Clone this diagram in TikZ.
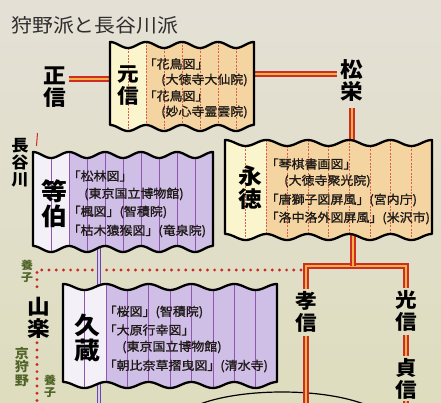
\documentclass[tikz,border=0pt]{standalone}
\usepackage{fontspec}
\newfontfamily\jp[FakeStretch=1.08]{Noto Sans CJK JP}
\newfontfamily\jpl[FakeStretch=1.08,FakeBold=1.2]{Noto Sans CJK JP}
\newfontfamily\jpt[FakeStretch=1.1]{Noto Sans CJK JP}
\definecolor{bgtop}{RGB}{228,224,214}
\definecolor{bgbot}{RGB}{222,221,190}
\definecolor{creamc}{RGB}{250,245,205}
\definecolor{orangec}{RGB}{244,212,160}
\definecolor{whitec}{RGB}{243,240,247}
\definecolor{lavc}{RGB}{207,190,230}
\definecolor{foldredc}{RGB}{215,95,75}
\definecolor{foldpurc}{RGB}{145,85,175}
\definecolor{linered}{RGB}{205,45,35}
\definecolor{lineorange}{RGB}{238,178,70}
\definecolor{linepur}{RGB}{105,70,170}
\definecolor{linelav}{RGB}{220,205,238}
\definecolor{dotred}{RGB}{205,40,40}
\definecolor{labelc}{RGB}{30,25,22}
\definecolor{olivec}{RGB}{80,100,40}
\definecolor{titlec}{RGB}{45,45,45}
\tikzset{
 screenedge/.style={draw=black, line width=2.3pt, line join=round},
 foldred/.style={draw=foldredc, line width=0.5pt, dash pattern=on 2pt off 1.3pt},
 foldpur/.style={draw=foldpurc, line width=0.6pt},
 lbl/.style={anchor=west, inner sep=0pt, text=labelc, font=\jpl\fontsize{12}{12}\selectfont},
 nm/.style 2 args={inner sep=0pt, align=center, text=black, font=\jp\bfseries\fontsize{#1}{#2}\selectfont},
 ol/.style 2 args={inner sep=0pt, align=center, text=olivec, font=\jp\bfseries\fontsize{#1}{#2}\selectfont},
 ttl/.style={anchor=west, inner sep=0pt, text=titlec, font=\jpt\fontsize{19}{19}\selectfont},
 redline/.style={draw=linered, line width=1.8pt, double=lineorange, double distance=2pt},
 purpline/.style={draw=linepur, line width=1.2pt, double=linelav, double distance=1.8pt},
 dotline/.style={draw=dotred, line width=3.2pt, line cap=round, dash pattern=on 0pt off 7.2pt},
 tickline/.style={draw=linered, line width=1pt},
 arcline/.style={draw=black, line width=1.2pt},
}
% #1 x0, #2 top, #3 bottom, #4 panel width, #5 panels, #6 first-panels colour, #7 body colour, #8 fold style
\newcommand\screenbox[8]{%
 \pgfmathsetmacro\sbxone{#1+#4*#5}%
 \pgfmathsetmacro\sbxtwo{#1+2*#4}%
 \pgfmathtruncatemacro\sbn{#5-1}%
 \begin{scope}
  \clip plot[domain=#1:\sbxone,samples=120] (\x,{#2-3*cos((\x-#1)/#4*180)}) -- plot[domain=\sbxone:#1,samples=120] (\x,{#3-3*cos((\x-#1)/#4*180)}) -- cycle;
  \fill[#7] (#1,#2-10) rectangle (\sbxone,#3+10);
  \fill[#6] (#1,#2-10) rectangle (\sbxtwo,#3+10);
  \foreach \k in {1,...,\sbn} \draw[#8] ({#1+\k*#4},#2-10) -- ({#1+\k*#4},#3+10);
 \end{scope}
 \draw[screenedge] plot[domain=#1:\sbxone,samples=120] (\x,{#2-3*cos((\x-#1)/#4*180)}) -- plot[domain=\sbxone:#1,samples=120] (\x,{#3-3*cos((\x-#1)/#4*180)}) -- cycle;
}
\begin{document}
\begin{tikzpicture}[x=1pt,y=-1pt]
\useasboundingbox (0,0) rectangle (441,403);
\clip (0,0) rectangle (441,403);
\shade[top color=bgtop, bottom color=bgbot] (0,0) rectangle (441,403);

% names outside the screens
\node[ttl] (title) at (11,25) {狩野派と長谷川派};
\node[nm={21}{22}] (masanobu) at (55,87) {正\\信};
\node[nm={21}{22}] (shoei) at (352,81) {松\\栄};
\node[nm={20}{22}] (takanobu) at (306,312) {孝\\信};
\node[nm={20}{22}] (mitsunobu) at (406,311) {光\\信};
\node[nm={20}{22}] (sadanobu) at (406,379) {貞\\信};
\node[nm={21}{22}] (sanraku) at (39,318) {山\\楽};
\node[nm={16}{17}] (hasegawa) at (20,163) {長\\谷\\川};
\node[ol={11}{12}] (yoshi1) at (27,271) {養\\子};
\node[ol={13}{13.5}] (kyokano) at (22,367) {京\\狩\\野};
\node[ol={11}{12}] (yoshi2) at (50,386) {養\\子};

% coordinates at the screens
\coordinate (moL) at (113,79);
\coordinate (moR) at (252,74);
\coordinate (eiT) at (352,146);
\coordinate (eiB) at (353,234);
\coordinate (fork) at (353,266);
\coordinate (forkL) at (306,266);
\coordinate (forkR) at (406,266);
\coordinate (tBot) at (306,406);
\coordinate (sBot) at (406,406);
\coordinate (toB) at (99,246);
\coordinate (kyT) at (99,290);
\coordinate (kyB) at (99,382);
\coordinate (pBot) at (99,406);
\coordinate (dc) at (37,270);
\coordinate (dr) at (301,270);
\coordinate (dBot) at (37,406);
\coordinate (tk1) at (37.5,133);
\coordinate (tk2) at (36.5,146);
\coordinate (ov) at (282,425);

% background arc
\draw[arcline] (ov) ellipse [x radius=106, y radius=33];

% adoption dotted lines
\draw[dotline] (dr) -- (dc) -- ([yshift=4pt]sanraku.north -| dc);
\draw[dotline] ([yshift=-4pt]sanraku.south -| dc) -- (dBot);

% lineage lines
\draw[tickline] (tk1) -- (tk2);
\draw[redline] ([xshift=2pt]masanobu.east |- moL) -- (moL);
\draw[redline] (moR) -- ([xshift=-3pt]shoei.west |- moR);
\draw[redline] ([yshift=-6pt]shoei.south) -- (eiT);
\draw[redline] ([yshift=2pt]takanobu.north) -- (forkL) -- (forkR) -- ([yshift=2pt]mitsunobu.north);
\draw[redline] (eiB) -- (fork);
\draw[redline] ([yshift=-3pt]takanobu.south) -- (tBot);
\draw[redline] ([yshift=-3pt]mitsunobu.south) -- ([yshift=2pt]sadanobu.north);
\draw[redline] ([yshift=-1pt]sadanobu.south) -- (sBot);
\draw[purpline] (toB) -- (kyT);
\draw[purpline] (kyB) -- (pBot);

% folding screens
\screenbox{110}{45}{128}{18}{8}{creamc}{orangec}{foldred}
\screenbox{225}{143}{237}{20.7}{10}{creamc}{orangec}{foldred}
\screenbox{33}{155}{249}{18}{10}{whitec}{lavc}{foldpur}
\screenbox{63}{287}{385}{21.4}{10}{whitec}{lavc}{foldpur}

% Motonobu
\node[nm={20}{22}] (motonobu) at (128,86) {元\\信};
\node[lbl] (mo1) at (143.5,64) {「花鳥図」};
\node[lbl] (mo2) at (161,80) {(大徳寺大仙院)};
\node[lbl] (mo3) at (143.5,96) {「花鳥図」};
\node[lbl] (mo4) at (161,112) {(妙心寺霊雲院)};

% Eitoku
\node[nm={22}{23}] (eitoku) at (250,188) {永\\徳};
\node[lbl] (ei1) at (265.5,164) {「琴棋書画図」};
\node[lbl] (ei2) at (284,181) {(大徳寺聚光院)};
\node[lbl] (ei3) at (265.5,200) {「唐獅子図屏風」(宮内庁)};
\node[lbl] (ei4) at (265.5,218) {「洛中洛外図屏風」(米沢市)};

% Tohaku
\node[nm={24}{25}] (tohaku) at (54,204) {等\\伯};
\node[lbl] (to1) at (67.5,176) {「松林図」};
\node[lbl] (to2) at (84,194) {(東京国立博物館)};
\node[lbl] (to3) at (67.5,212) {「楓図」(智積院)};
\node[lbl] (to4) at (67.5,231) {「枯木猿猴図」(竜泉院)};

% Kyuzo
\node[nm={24}{25}] (kyuzo) at (87,338) {久\\蔵};
\node[lbl] (ky1) at (103.5,312) {「桜図」(智積院)};
\node[lbl] (ky2) at (103.5,330) {「大原行幸図」};
\node[lbl] (ky3) at (122,347) {(東京国立博物館)};
\node[lbl] (ky4) at (103.5,366) {「朝比奈草摺曳図」(清水寺)};
\end{tikzpicture}
\end{document}
